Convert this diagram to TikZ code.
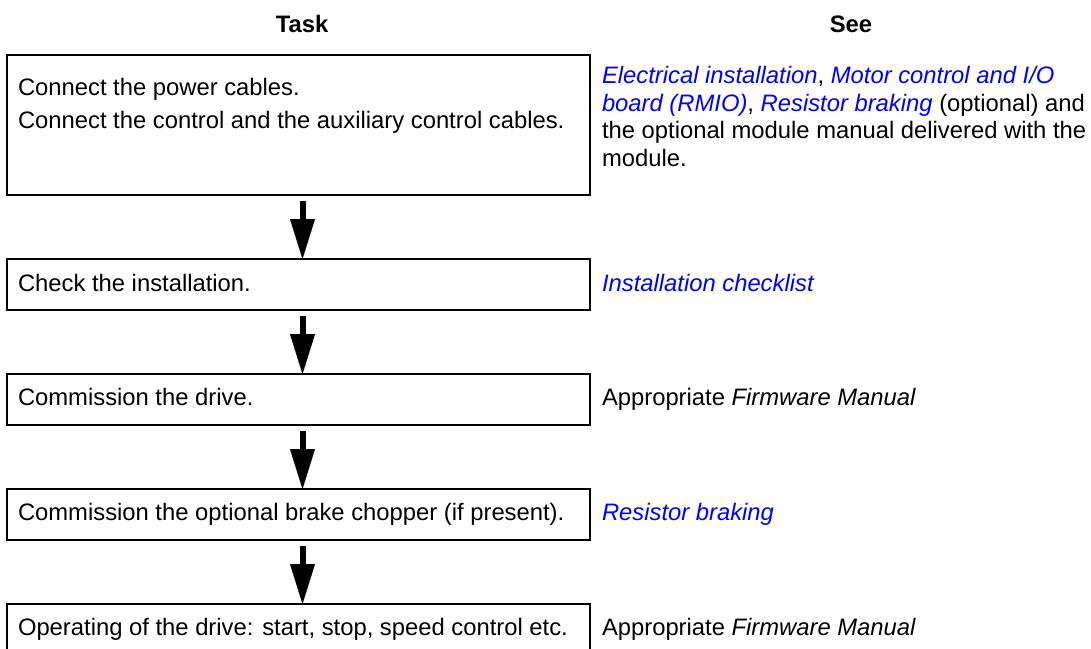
\documentclass[tikz,border=0pt]{standalone}
\usepackage{fontspec}
\setmainfont{Liberation Sans}
\usetikzlibrary{arrows.meta}
\definecolor{linkblue}{RGB}{0,0,255}
\newcommand{\lnk}[1]{\textcolor{linkblue}{\textit{#1}}}
\begin{document}
\begin{tikzpicture}[x=1pt,y=-1pt,
  every node/.style={inner sep=0pt, outer sep=0pt, font=\fontsize{23.8}{27}\selectfont},
  taskbox/.style={draw, line width=1.6pt, minimum width=583pt, anchor=north west},
  txt/.style={anchor=base west},
  head/.style={anchor=base, font=\fontsize{23.8}{27}\selectfont\bfseries},
  flow/.style={line width=6pt, -{Triangle[width=25pt,length=40pt,line width=0.1pt]}, shorten <=6pt}
]
\clip (0,0) rectangle (1091,648);
\fill[white] (0,0) rectangle (1091,648);

\node[head] (hTask) at (302,32) {Task};
\node[head] (hSee) at (851,32) {See};

\node[taskbox, minimum height=140pt] (b1) at (7,55) {};
\node[taskbox, minimum height=51pt] (b2) at (7,259) {};
\node[taskbox, minimum height=51pt] (b3) at (7,374) {};
\node[taskbox, minimum height=51pt] (b4) at (7,489) {};
\node[taskbox, minimum height=51pt] (b5) at (7,604) {};

\node[txt] (t1a) at (18,95) {Connect the power cables.};
\node[txt] (t1b) at (18,128) {Connect the control and the auxiliary control cables.};
\node[txt] (t2) at (18,291) {Check the installation.};
\node[txt] (t3) at (18,405) {Commission the drive.};
\node[txt] (t4) at (18,520) {Commission the optional brake chopper (if present).};
\node[txt] (t5) at (18,635) {Operating of the drive: start, stop, speed control etc.};

\node[txt] (s1a) at (602,83) {\lnk{Electrical installation}, \lnk{Motor control and I/O}};
\node[txt] (s1b) at (602,111) {\lnk{board (RMIO)}, \lnk{Resistor braking} (optional) and};
\node[txt] (s1c) at (602,138) {the optional module manual delivered with the};
\node[txt] (s1d) at (602,166) {module.};
\node[txt] (s2) at (602,291) {\lnk{Installation checklist}};
\node[txt] (s3) at (602,405) {Appropriate \textit{Firmware Manual}};
\node[txt] (s4) at (602,520) {\lnk{Resistor braking}};
\node[txt] (s5) at (602,635) {Appropriate \textit{Firmware Manual}};

\draw[flow] ([xshift=4pt]b1.south) -- ([xshift=4pt]b2.north);
\draw[flow] ([xshift=4pt]b2.south) -- ([xshift=4pt]b3.north);
\draw[flow] ([xshift=4pt]b3.south) -- ([xshift=4pt]b4.north);
\draw[flow] ([xshift=4pt]b4.south) -- ([xshift=4pt]b5.north);
\end{tikzpicture}
\end{document}
